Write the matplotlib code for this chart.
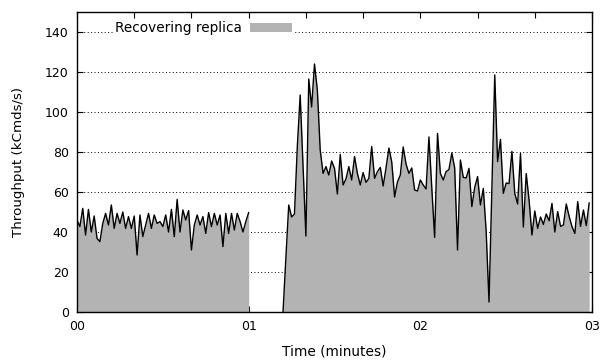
import matplotlib.pyplot as plt
from matplotlib.ticker import FixedLocator, MultipleLocator

# throughput samples, one per second (kCmds/s)
before_start = 0
before_values = [
    46, 42.7, 51.8, 38.5, 51.3, 40, 48, 36.8, 35.2, 44.3,
    49.3, 43.5, 53.5, 41.8, 49.3, 44.3, 50, 41.8, 47.7, 41.8,
    48, 28.5, 48.5, 37.7, 43.5, 49.3, 41.8, 48.5, 44.3, 45.2,
    42.7, 48.5, 40, 51.3, 37.7, 56.3, 40, 51, 46, 50.7,
    31, 43.5, 48.5, 43.5, 47.7, 39.3, 49.7, 42.7, 49.3, 43.5,
    48.5, 32.7, 49.3, 39.3, 49.3, 41, 49.3, 45.2, 40, 45.2,
    49.7,
]

after_start = 72
after_values = [
    0, 27, 53.5, 47.5, 49, 82.7, 108.5, 73, 38, 116.5,
    102.5, 124, 111, 81, 69.3, 72.7, 68.5, 75.5, 71.8, 59,
    78.8, 63.5, 66.5, 72.7, 66, 77.7, 69.3, 63.5, 69.7, 64.8,
    66.8, 82.7, 66.8, 70.2, 72.3, 63, 72, 82, 75, 57.5,
    65, 68.5, 82.5, 74, 69.3, 72, 61, 60.5, 66, 63.5,
    61.5, 87.5, 62, 37.3, 89.3, 69.3, 66, 70.2, 71.2, 79.5,
    72, 31, 76, 67.3, 67, 71.8, 52.7, 62.3, 67.7, 53.5,
    61.8, 40.5, 5, 62, 118.5, 75.2, 86.3, 59.3, 64.5, 64.2,
    80.3, 59.3, 54, 79.2, 42.5, 69.2, 56, 38.5, 50.5, 41.8,
    47.5, 43.8, 49, 45.6, 54.3, 40, 50.2, 42.8, 43.5, 54,
    47.8, 42.7, 39.3, 55.2, 42.8, 51, 43.2, 54.5,
]

minute_ticks = [0, 60, 120, 180]
minute_labels = ["00", "01", "02", "03"]
series_label = "Recovering replica"

fill_color = "#b3b3b3"

fig = plt.figure(figsize=(6.03, 3.63), dpi=100)
ax = fig.add_axes([0.1277, 0.1405, 0.8541, 0.8265])

for start, values in [(before_start, before_values), (after_start, after_values)]:
    t = list(range(start, start + len(values)))
    ax.fill_between(t, 0, values, color=fill_color, linewidth=0, zorder=2,
                    label=series_label if start == before_start else None)
    ax.plot(t, values, color="black", linewidth=1.0, zorder=3)

ax.set_xlim(0, 180)
ax.set_ylim(0, 150)

ax.xaxis.set_major_locator(FixedLocator(minute_ticks))
ax.set_xticklabels(minute_labels)
ax.xaxis.set_minor_locator(MultipleLocator(20))
ax.set_yticks(range(0, 141, 20))

ax.tick_params(which="both", direction="in", top=True, right=True,
               length=4.5, width=0.8, labelsize=9, pad=6)

ax.yaxis.grid(True, linestyle=(0, (1, 2.5)), color="black", linewidth=0.7, zorder=1)
ax.set_axisbelow(True)

for s in ax.spines.values():
    s.set_linewidth(1.0)
    s.set_zorder(4)

ax.set_xlabel("Time (minutes)", fontsize=9.9, labelpad=8)
ax.set_ylabel("Throughput (kCmds/s)", fontsize=9.6, labelpad=14)

leg = ax.legend(loc="upper left", bbox_to_anchor=(0.059, 0.994), markerfirst=False,
                fontsize=9.8, handlelength=3.1, handleheight=0.6, handletextpad=0.6,
                borderpad=0.05, frameon=True, fancybox=False, framealpha=1.0)
leg.get_frame().set_edgecolor("none")
leg.set_zorder(5)

fig.savefig("out.png", dpi=100)
